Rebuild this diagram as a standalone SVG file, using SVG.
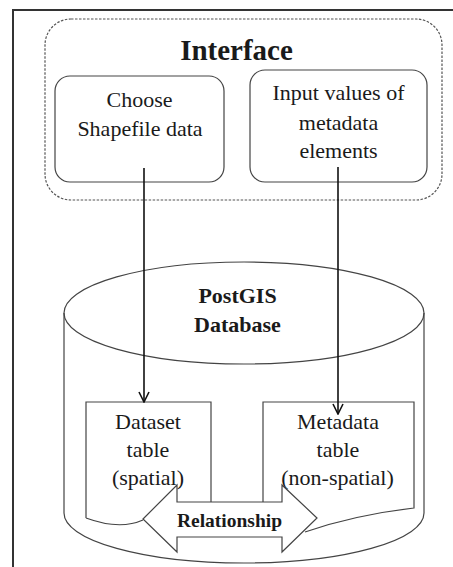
<svg xmlns="http://www.w3.org/2000/svg" width="453" height="567" viewBox="0 0 453 567">
<defs>
<style>
.t{fill:#1a1a1a;text-anchor:middle}
.b{font-weight:bold}
.s{fill:none;stroke:#444;stroke-width:1.2}
.w{fill:#fff;stroke:#444;stroke-width:1.2}
.c{stroke:#111;stroke-width:1.6;fill:none}
</style>
<marker id="ah" viewBox="0 0 12 12" refX="11" refY="6" markerWidth="12" markerHeight="12" markerUnits="userSpaceOnUse" orient="auto">
<path d="M1,1 L11,6 L1,11" fill="none" stroke="#111" stroke-width="1.6"/>
</marker>
</defs>
<rect width="453" height="567" fill="#fff"/>
<g id="frame">
<path d="M453,10 H13 V567" fill="none" stroke="#333" stroke-width="2"/>
</g>
<g id="interface">
<rect x="45" y="19" width="397" height="181" rx="26" fill="none" stroke="#555" stroke-width="1.2" stroke-dasharray="2.5,1.5"/>
<text class="t b" x="236.5" y="60" font-size="29" style="font-family:'Liberation Serif',serif">Interface</text>
</g>
<g id="choose">
<rect class="s" x="55" y="76" width="169" height="106" rx="15"/>
<text class="t" x="139.5" y="107" font-size="22" style="font-family:'Liberation Serif',serif">Choose</text>
<text class="t" x="140" y="136" font-size="22" style="font-family:'Liberation Serif',serif">Shapefile data</text>
</g>
<g id="input">
<rect class="s" x="250" y="70" width="177" height="112" rx="15"/>
<text class="t" x="338.5" y="100" font-size="22" style="font-family:'Liberation Serif',serif">Input values of</text>
<text class="t" x="338.5" y="130" font-size="22" style="font-family:'Liberation Serif',serif">metadata</text>
<text class="t" x="338.5" y="158" font-size="22" style="font-family:'Liberation Serif',serif">elements</text>
</g>
<g id="database">
<path class="s" d="M64,313 V513 A180,50 0 0 0 424,513 V313"/>
<ellipse class="s" cx="244" cy="313" rx="180" ry="51"/>
<text class="t b" x="237.5" y="303" font-size="22" style="font-family:'Liberation Serif',serif">PostGIS</text>
<text class="t b" x="237.5" y="332" font-size="22" style="font-family:'Liberation Serif',serif">Database</text>
</g>
<g id="dataset">
<path class="s" d="M86,518 V402 H211 V505 M86,518 C105,525 125,528 143,520"/>
<text class="t" x="148" y="429" font-size="22" style="font-family:'Liberation Serif',serif">Dataset</text>
<text class="t" x="148" y="457" font-size="22" style="font-family:'Liberation Serif',serif">table</text>
<text class="t" x="148" y="485" font-size="22" style="font-family:'Liberation Serif',serif">(spatial)</text>
</g>
<g id="metadata">
<path class="s" d="M263,505 V402 H414 V508 C380,512 340,520 305,532"/>
<text class="t" x="338" y="429" font-size="22" style="font-family:'Liberation Serif',serif">Metadata</text>
<text class="t" x="338" y="457" font-size="22" style="font-family:'Liberation Serif',serif">table</text>
<text class="t" x="337.5" y="485" font-size="22" style="font-family:'Liberation Serif',serif">(non-spatial)</text>
</g>
<g id="connectors">
<line class="c" x1="144" y1="168" x2="144" y2="402" marker-end="url(#ah)"/>
<line class="c" x1="338" y1="167" x2="338" y2="414" marker-end="url(#ah)"/>
</g>
<g id="relationship">
<path class="w" d="M143,519 L177,485 V502 H282 V485 L317,518 L282,552 V537 H177 V552 Z"/>
<text class="t b" x="229.5" y="527" font-size="19.5" style="font-family:'Liberation Serif',serif">Relationship</text>
</g>
</svg>
